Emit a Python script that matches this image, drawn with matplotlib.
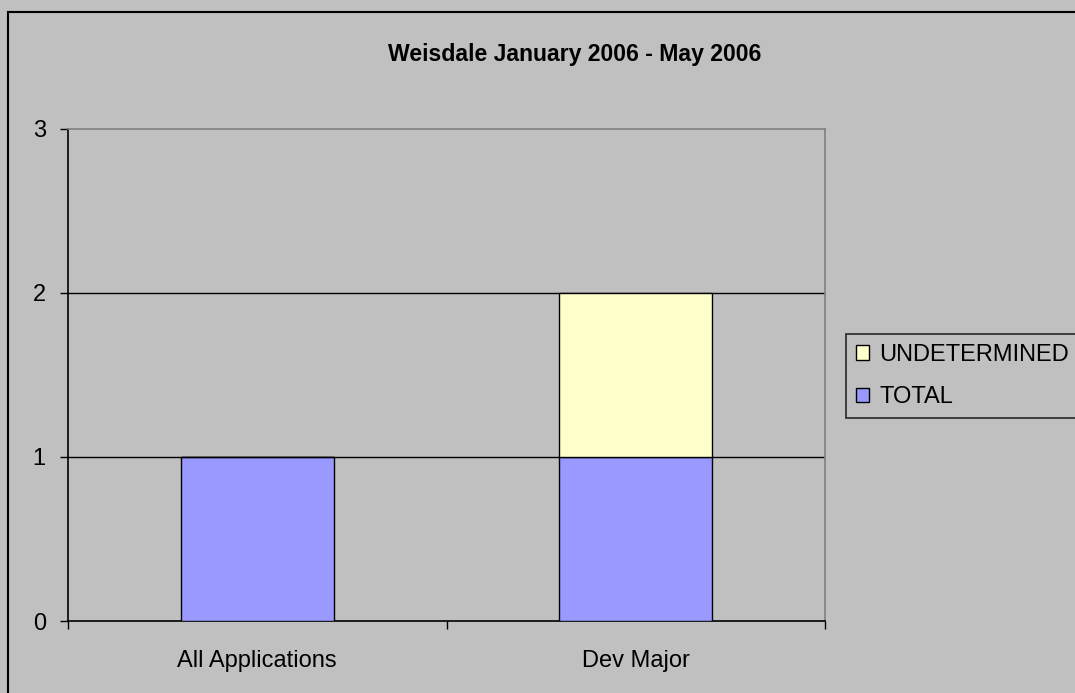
import matplotlib
matplotlib.use("Agg")
from matplotlib import pyplot as plt
from matplotlib.patches import Rectangle

categories = ['All Applications', 'Dev Major']
total = [1, 1]
undetermined = [0, 1]
yticks = [0, 1, 2, 3]

plt.rcParams['font.family'] = ['Liberation Sans', 'DejaVu Sans']

fig = plt.figure(figsize=(10.75, 6.93), dpi=100)
fig.patch.set_facecolor('#C0C0C0')

# outer chart border (only the left and top edges are visible)
fig.patches.append(Rectangle((8 / 1075, -0.2), 1.5, 1.2 - 12 / 693,
                             transform=fig.transFigure, fill=False,
                             edgecolor='black', linewidth=1.5))

ax = fig.add_axes([68 / 1075, 1 - 621 / 693, (825 - 68) / 1075, (621 - 129) / 693])
ax.set_facecolor('#C0C0C0')

x = list(range(len(categories)))
ax.bar(x, total, width=0.405, color='#9999FF', edgecolor='black', linewidth=1, label='TOTAL', zorder=3)
ax.bar(x, undetermined, width=0.405, bottom=total, color='#FFFFCC', edgecolor='black',
       linewidth=1, label='UNDETERMINED', zorder=3)

ax.set_xlim(-0.5, 1.5)
ax.set_ylim(0, 3)
ax.set_yticks(yticks)
ax.set_yticklabels([str(v) for v in yticks], fontsize=17)
for v in yticks[1:-1]:
    ax.axhline(v, color='black', linewidth=1, zorder=1)

# category labels between boundary ticks
ax.set_xticks([-0.5, 0.5, 1.5])
ax.set_xticklabels([])
ax.set_xticks(x, minor=True)
ax.set_xticklabels(categories, minor=True, fontsize=17)
ax.tick_params(axis='x', which='minor', length=0, pad=21)
ax.tick_params(axis='x', which='major', direction='out', length=6, width=1)
ax.tick_params(axis='y', direction='out', length=6, width=1, pad=10)

ax.spines['top'].set_color('#808080')
ax.spines['right'].set_color('#808080')
ax.spines['left'].set_color('black')
ax.spines['bottom'].set_color('black')
for s in ax.spines.values():
    s.set_linewidth(1.2)

fig.text(575 / 1075, 1 - 55 / 693, 'Weisdale January 2006 - May 2006', ha='center', va='center',
         fontsize=16.6, fontweight='bold')

handles, labels = ax.get_legend_handles_labels()
leg = fig.legend(handles[::-1], labels[::-1], loc='upper left',
                 bbox_to_anchor=(846 / 1075, 1 - 334 / 693), fontsize=17,
                 frameon=True, fancybox=False, handlelength=0.55, handleheight=0.55,
                 handletextpad=0.45, borderpad=0.42, labelspacing=0.85, borderaxespad=0)
leg.get_frame().set_facecolor('#C0C0C0')
leg.get_frame().set_edgecolor('black')
leg.get_frame().set_linewidth(1.2)

fig.savefig('out.png', dpi=100, facecolor=fig.get_facecolor())
